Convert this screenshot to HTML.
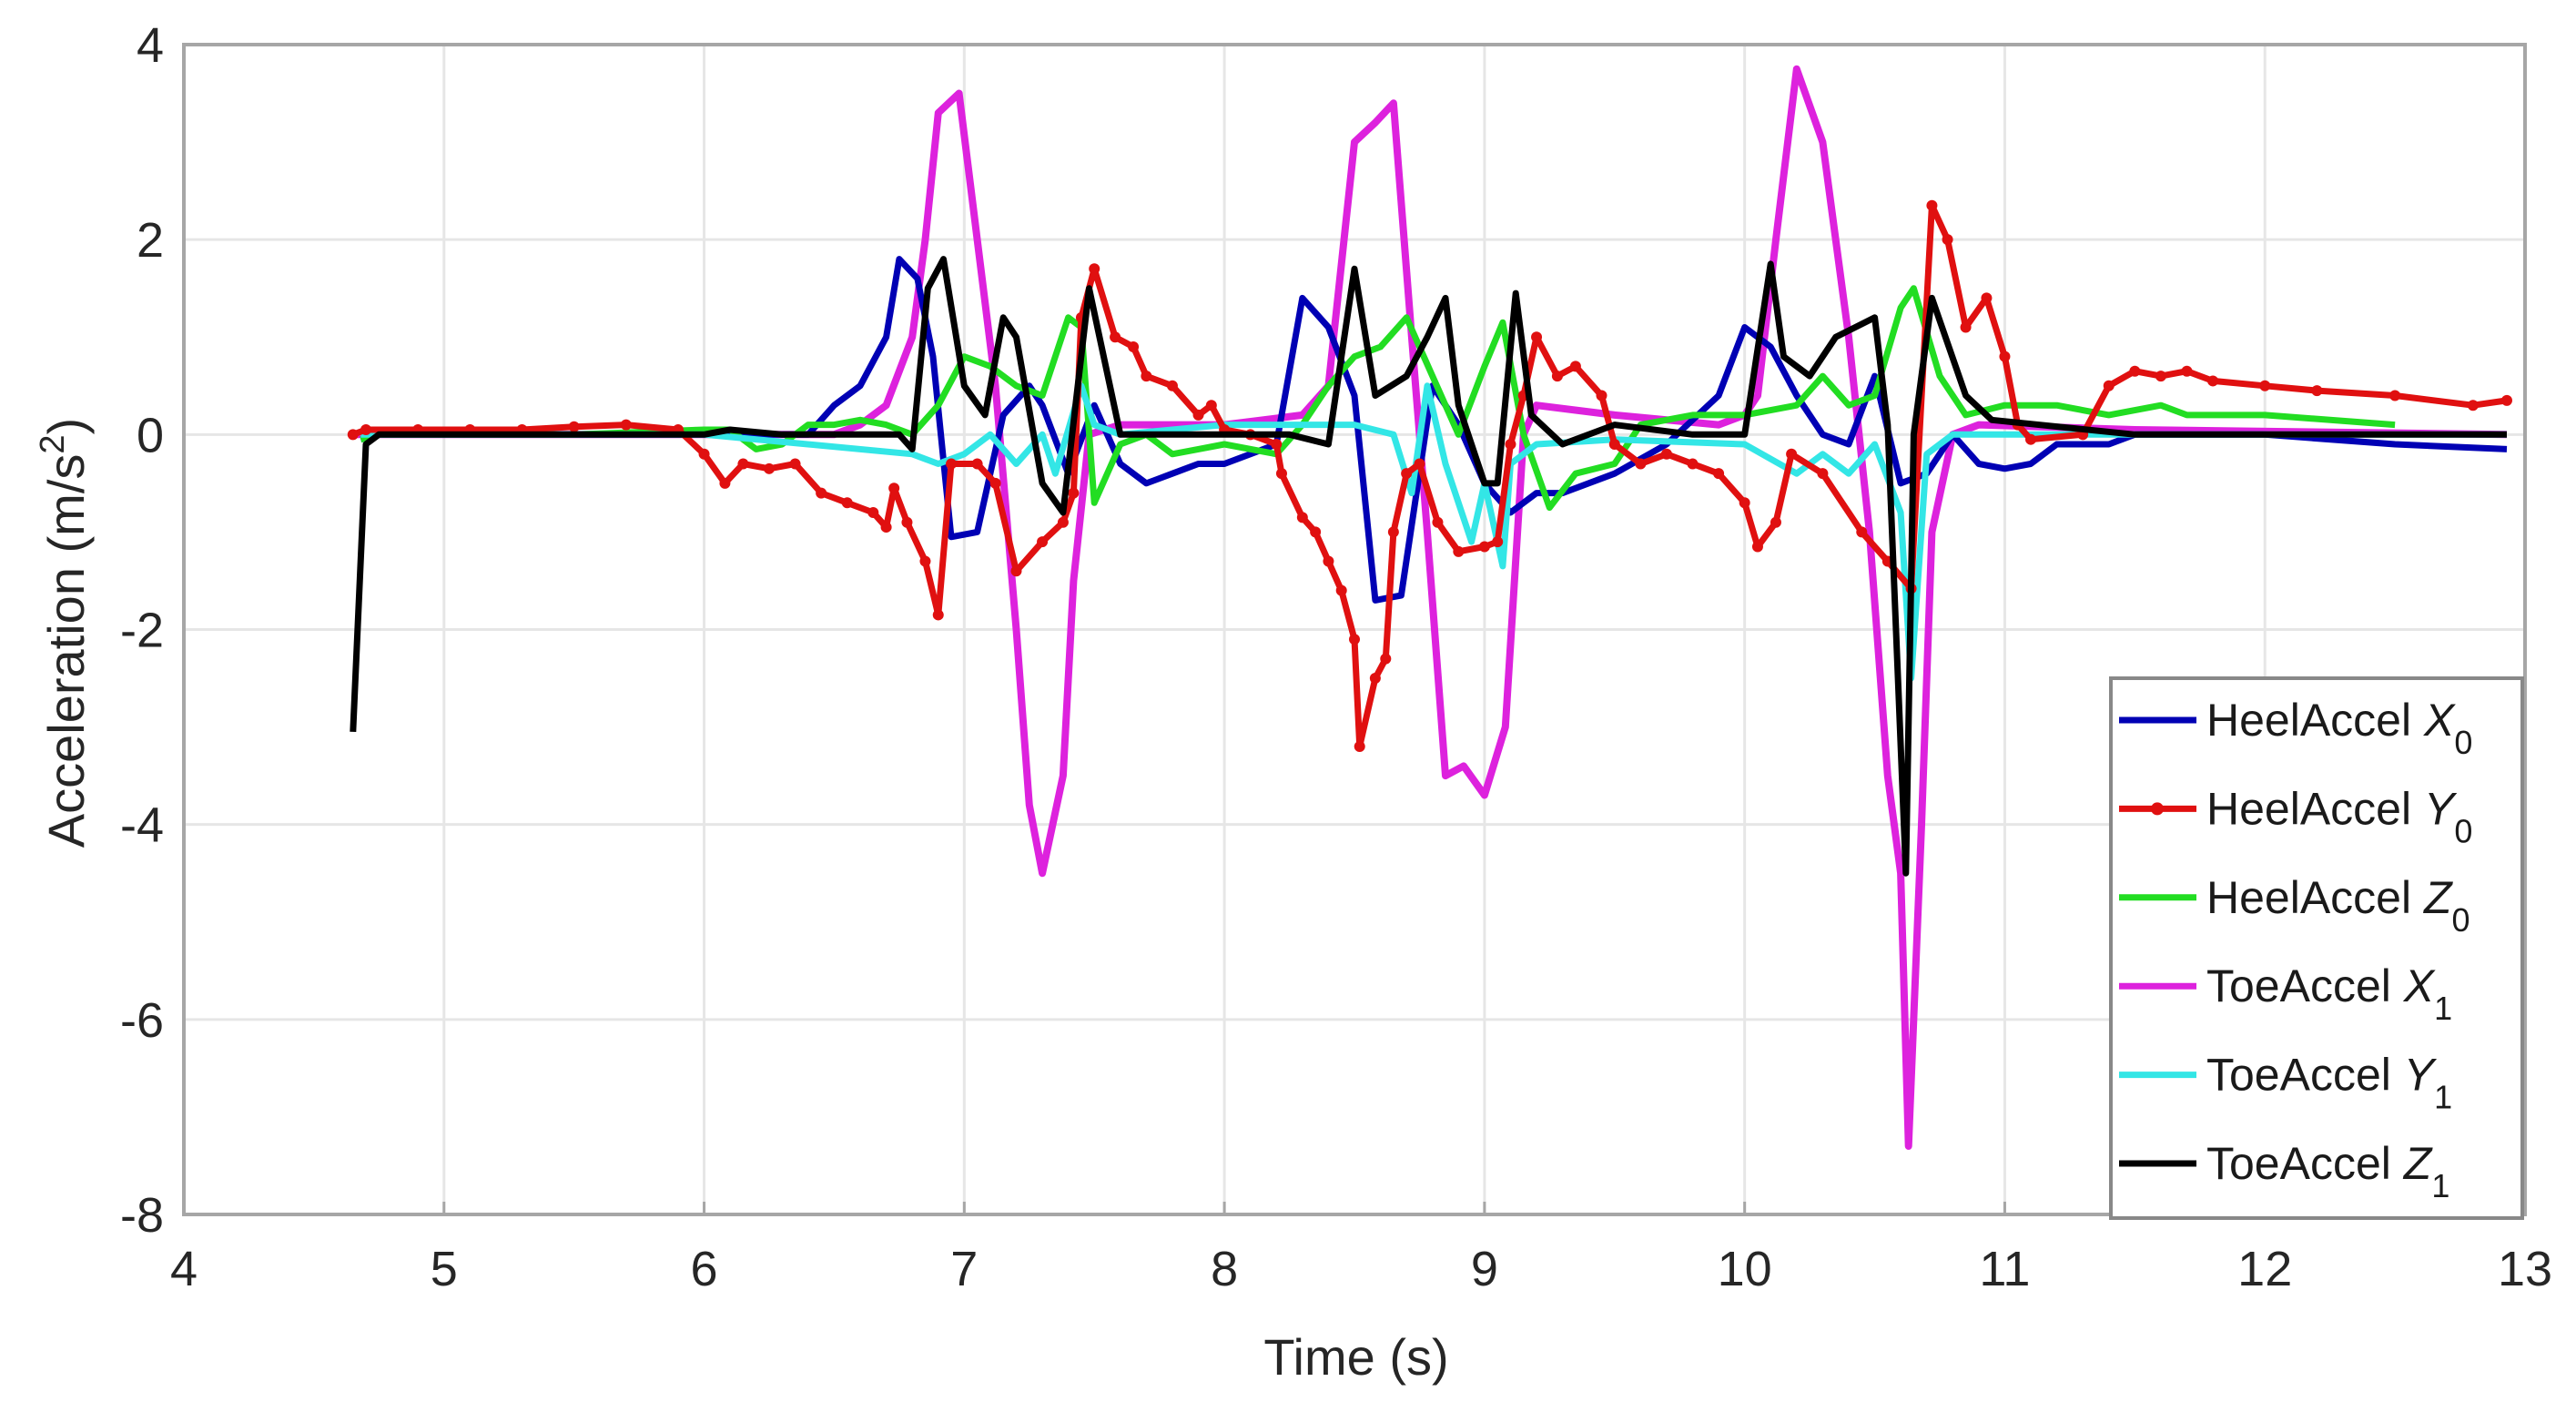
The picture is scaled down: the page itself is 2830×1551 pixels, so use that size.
<!DOCTYPE html>
<html><head><meta charset="utf-8"><style>
html,body{margin:0;padding:0;background:#fff;}
svg{display:block;font-family:"Liberation Sans",sans-serif;}
</style></head><body>
<svg id="chart" width="2830" height="1551" viewBox="0 0 2830 1551">
<rect x="0" y="0" width="2830" height="1551" fill="#fff"/>
<g id="grid"></g>
<g id="series"></g>
<rect x="202" y="49" width="2572" height="1285" fill="none" stroke="#a6a6a6" stroke-width="4"/>
<g id="ticks"></g>
<text x="1490" y="1510" font-size="56" text-anchor="middle" fill="#262626">Time (s)</text>
<text transform="translate(92,695) rotate(-90)" font-size="56" text-anchor="middle" fill="#262626">Acceleration (m/s<tspan dy="-22" font-size="38">2</tspan><tspan dy="22">)</tspan></text>
<g id="legend">
<rect x="2319" y="745" width="452" height="593" fill="#fff" stroke="#888" stroke-width="4"/>
</g>
</svg>
<script>
const xTicks=[4,5,6,7,8,9,10,11,12,13];
const yTicks=[4,2,0,-2,-4,-6,-8];
const seriesNames=["HeelAccel X","HeelAccel Y","HeelAccel Z","ToeAccel X","ToeAccel Y","ToeAccel Z"];
const seriesSubs=["0","0","0","1","1","1"];
const heelXt=[4.68,4.75,5,5.5,6,6.4,6.5,6.6,6.7,6.75,6.82,6.88,6.95,7.05,7.15,7.25,7.3,7.4,7.5,7.6,7.7,7.8,7.9,8.0,8.2,8.3,8.4,8.5,8.58,8.68,8.8,8.9,9.0,9.1,9.2,9.3,9.5,9.7,9.9,10.0,10.1,10.2,10.3,10.4,10.5,10.6,10.7,10.8,10.9,11.0,11.1,11.2,11.4,11.5,12,12.5,12.93];
const heelXv=[-0.05,0,0,0,0,0,0.3,0.5,1.0,1.8,1.6,0.8,-1.05,-1.0,0.2,0.5,0.3,-0.4,0.3,-0.3,-0.5,-0.4,-0.3,-0.3,-0.1,1.4,1.1,0.4,-1.7,-1.65,0.5,0.1,-0.5,-0.8,-0.6,-0.6,-0.4,-0.1,0.4,1.1,0.9,0.4,0,-0.1,0.6,-0.5,-0.4,0,-0.3,-0.35,-0.3,-0.1,-0.1,0,0,-0.1,-0.15];
const heelYt=[4.65,4.7,4.9,5.1,5.3,5.5,5.7,5.9,6.0,6.08,6.15,6.25,6.35,6.45,6.55,6.65,6.7,6.73,6.78,6.85,6.9,6.95,7.05,7.12,7.2,7.3,7.38,7.42,7.45,7.5,7.58,7.65,7.7,7.8,7.9,7.95,8.0,8.1,8.2,8.22,8.3,8.35,8.4,8.45,8.5,8.52,8.58,8.62,8.65,8.7,8.75,8.82,8.9,9.0,9.05,9.1,9.15,9.2,9.28,9.35,9.45,9.5,9.6,9.7,9.8,9.9,10.0,10.05,10.12,10.18,10.3,10.45,10.55,10.64,10.72,10.78,10.85,10.93,11.0,11.05,11.1,11.3,11.4,11.5,11.6,11.7,11.8,12.0,12.2,12.5,12.8,12.93];
const heelYv=[0,0.05,0.05,0.05,0.05,0.08,0.1,0.05,-0.2,-0.5,-0.3,-0.35,-0.3,-0.6,-0.7,-0.8,-0.95,-0.55,-0.9,-1.3,-1.85,-0.3,-0.3,-0.5,-1.4,-1.1,-0.9,-0.6,1.2,1.7,1.0,0.9,0.6,0.5,0.2,0.3,0.05,0,-0.1,-0.4,-0.85,-1.0,-1.3,-1.6,-2.1,-3.2,-2.5,-2.3,-1.0,-0.4,-0.3,-0.9,-1.2,-1.15,-1.1,-0.1,0.4,1.0,0.6,0.7,0.4,-0.1,-0.3,-0.2,-0.3,-0.4,-0.7,-1.15,-0.9,-0.2,-0.4,-1.0,-1.3,-1.58,2.35,2.0,1.1,1.4,0.8,0.1,-0.05,0,0.5,0.65,0.6,0.65,0.55,0.5,0.45,0.4,0.3,0.35];
const heelZt=[4.68,4.75,5.5,6.0,6.1,6.2,6.3,6.4,6.5,6.6,6.7,6.8,6.9,7.0,7.1,7.2,7.3,7.4,7.45,7.5,7.6,7.7,7.8,7.9,8.0,8.2,8.3,8.4,8.5,8.6,8.7,8.8,8.9,9.0,9.07,9.15,9.25,9.35,9.5,9.6,9.8,10.0,10.2,10.3,10.4,10.5,10.6,10.65,10.75,10.85,11.0,11.2,11.4,11.6,11.7,12.0,12.5];
const heelZv=[-0.05,0,0,0.05,0.05,-0.15,-0.1,0.1,0.1,0.15,0.1,0,0.3,0.8,0.7,0.5,0.4,1.2,1.1,-0.7,-0.1,0,-0.2,-0.15,-0.1,-0.2,0.1,0.5,0.8,0.9,1.2,0.6,0,0.7,1.15,0,-0.75,-0.4,-0.3,0.1,0.2,0.2,0.3,0.6,0.3,0.4,1.3,1.5,0.6,0.2,0.3,0.3,0.2,0.3,0.2,0.2,0.1];
const toeXt=[4.65,5,6,6.5,6.6,6.7,6.8,6.85,6.9,6.98,7.05,7.12,7.2,7.25,7.3,7.38,7.42,7.48,7.6,8.0,8.3,8.4,8.5,8.58,8.65,8.72,8.78,8.85,8.92,9.0,9.08,9.15,9.2,9.5,9.9,10.0,10.05,10.12,10.2,10.3,10.4,10.48,10.55,10.6,10.63,10.68,10.72,10.8,10.9,11.5,12.93];
const toeXv=[0,0,0,0,0.1,0.3,1.0,2.0,3.3,3.5,2.0,0.5,-2.0,-3.8,-4.5,-3.5,-1.5,0,0.1,0.1,0.2,0.5,3.0,3.2,3.4,1.0,-1.0,-3.5,-3.4,-3.7,-3.0,0,0.3,0.2,0.1,0.2,0.4,2.0,3.75,3.0,1.0,-1.0,-3.5,-4.5,-7.3,-4.0,-1.0,0,0.1,0.05,0];
const toeYt=[4.68,5,6,6.8,6.9,7.0,7.1,7.2,7.3,7.35,7.45,7.5,7.6,8.0,8.5,8.65,8.72,8.78,8.85,8.95,9.0,9.07,9.1,9.2,9.5,10.0,10.2,10.3,10.4,10.5,10.6,10.64,10.7,10.8,12.93];
const toeYv=[0,0,0,-0.2,-0.3,-0.2,0,-0.3,0,-0.4,0.5,0.1,0,0.1,0.1,0,-0.6,0.5,-0.3,-1.1,-0.5,-1.35,-0.3,-0.1,-0.05,-0.1,-0.4,-0.2,-0.4,-0.1,-0.8,-2.5,-0.2,0,0];
const toeZt=[4.65,4.7,4.75,5.5,6.0,6.1,6.3,6.75,6.8,6.86,6.92,7.0,7.08,7.15,7.2,7.3,7.38,7.48,7.6,8.0,8.25,8.4,8.5,8.58,8.7,8.78,8.85,8.9,9.0,9.05,9.12,9.18,9.3,9.5,9.8,10.0,10.1,10.15,10.25,10.35,10.5,10.55,10.62,10.65,10.72,10.85,10.95,11.5,12.93];
const toeZv=[-3.05,-0.1,0,0,0,0.05,0,0,-0.15,1.5,1.8,0.5,0.2,1.2,1.0,-0.5,-0.8,1.5,0,0,0,-0.1,1.7,0.4,0.6,1.0,1.4,0.3,-0.5,-0.5,1.45,0.2,-0.1,0.1,0,0,1.75,0.8,0.6,1.0,1.2,0.1,-4.5,0,1.4,0.4,0.15,0,0];

const L=202,R=2774,T=49,B=1334;
const xs=t=>L+(t-4)/(13-4)*(R-L);
const ys=v=>T+(4-v)/(12)*(B-T);
const NS="http://www.w3.org/2000/svg";
function mk(tag,attrs,parent){const e=document.createElementNS(NS,tag);for(const k in attrs)e.setAttribute(k,attrs[k]);parent.appendChild(e);return e;}
const grid=document.getElementById('grid'),ticks=document.getElementById('ticks');
xTicks.forEach(t=>{
  const g=mk('line',{x1:xs(t),x2:xs(t),y1:T,y2:B,stroke:'#e6e6e6','stroke-width':3},grid);
  
  
  const tk=mk('line',{x1:xs(t),x2:xs(t),y1:B,y2:B-14,stroke:'#a6a6a6','stroke-width':3},grid);
  
  
  const tx=mk('text',{x:xs(t),y:B+78,'font-size':54,'text-anchor':'middle',fill:'#262626'},ticks);
  tx.textContent=String(t);
  
  
});
yTicks.forEach(v=>{
  const g=mk('line',{x1:L,x2:R,y1:ys(v),y2:ys(v),stroke:'#e6e6e6','stroke-width':3},grid);
  
  
  const tx=mk('text',{x:L-22,y:ys(v)+19,'font-size':54,'text-anchor':'end',fill:'#262626'},ticks);
  tx.textContent=String(v);
  
  
});
const sg=document.getElementById('series');
const allT=[heelXt,heelYt,heelZt,toeXt,toeYt,toeZt];
const allV=[heelXv,heelYv,heelZv,toeXv,toeYv,toeZv];
const colors=['#0000b4','#e01010','#22dd22','#dd22dd','#33e6e6','#000000'];
const widths=[7,7,7,8,7,7];
const drawOrder=[3,0,2,4,1,5];
const keys=['heel-x','heel-y','heel-z','toe-x','toe-y','toe-z'];
drawOrder.forEach(i=>{
  const d=allT[i].map((t,j)=>(j?'L':'M')+xs(t).toFixed(1)+','+ys(allV[i][j]).toFixed(1)).join(' ');
  const p=mk('path',{d:d,fill:'none',stroke:colors[i],'stroke-width':widths[i],'stroke-linejoin':'round'},sg);
  
  
  if(i===1){
    allT[i].forEach((t,j)=>{
      const c=mk('circle',{cx:xs(t),cy:ys(allV[i][j]),r:6,fill:colors[i]},sg);
      
      
    });
  }
});
const lg=document.getElementById('legend');
seriesNames.forEach((n,i)=>{
  const y=791+i*97.4;
  const ln=mk('line',{x1:2328,x2:2413,y1:y,y2:y,stroke:colors[i],'stroke-width':7},lg);
  
  
  if(i===1){const c=mk('circle',{cx:2370,cy:y,r:7,fill:colors[i]},lg);}
  const tx=mk('text',{x:2424,y:y+17,'font-size':50,fill:'#1a1a1a'},lg);
  const parts=n.split(' ');
  tx.textContent=parts[0]+' ';
  const ital=mk('tspan',{'font-style':'italic'},tx);ital.textContent=parts[1];
  const sub=mk('tspan',{dy:20,'font-size':36},tx);sub.textContent=seriesSubs[i];
  
  
});
</script>
</body></html>
